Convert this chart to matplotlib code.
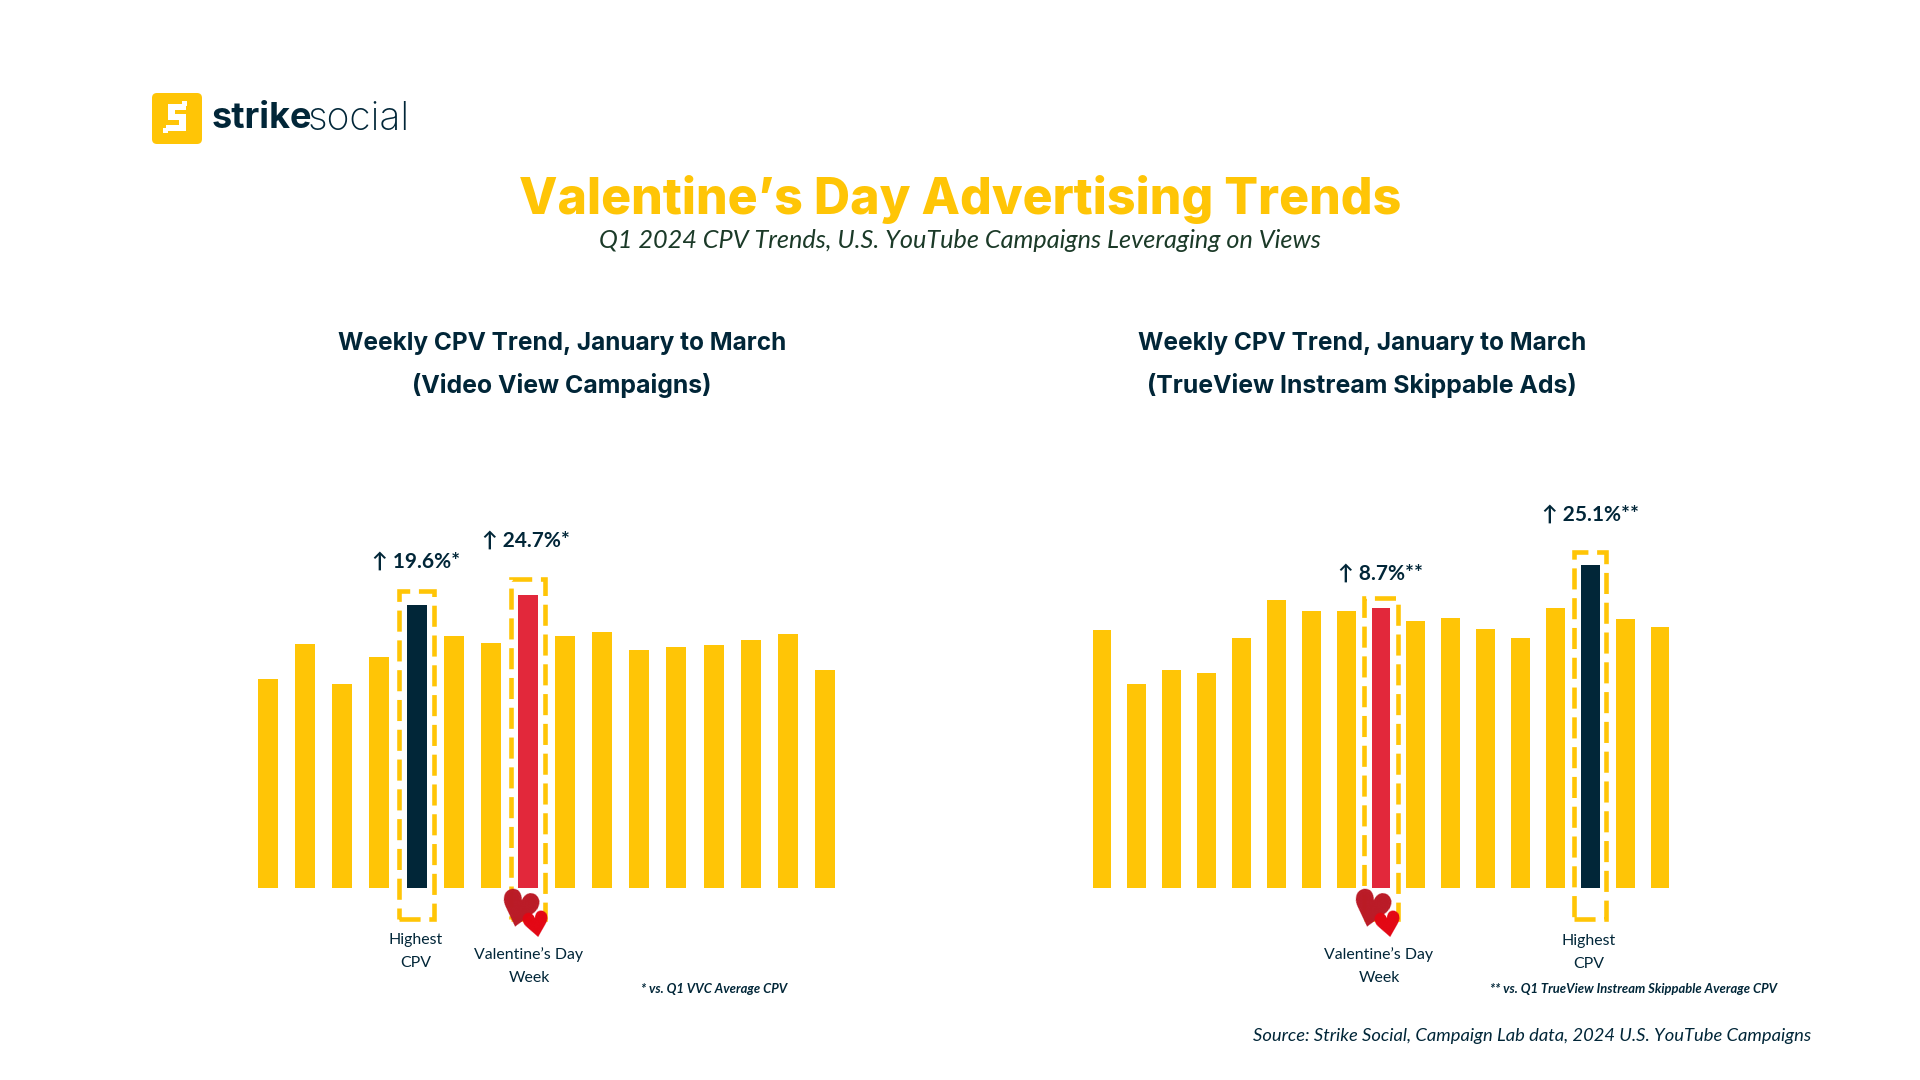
import matplotlib
matplotlib.use("Agg")
import matplotlib.pyplot as plt
from matplotlib.patches import Rectangle, FancyBboxPatch

W, H = 1920, 1080

# bar heights (no axis in the original, so relative units)
left_values = [209, 244, 204, 231, 283, 252, 245, 293, 252, 256, 238, 241, 243, 248, 254, 218]
right_values = [258, 204, 218, 215, 250, 288, 277, 277, 280, 267, 270, 259, 250, 280, 323, 269, 261]
left_navy = 4
left_red = 7
right_red = 8
right_navy = 14

YELLOW = "#FFC506"
NAVY = "#012638"
RED = "#E2283B"

plt.rcParams["font.family"] = ["Lato", "DejaVu Sans"]

fig = plt.figure(figsize=(19.2, 10.8), dpi=100, facecolor="white")


def px_axes(x0, x1, y0, y1):
    ax = fig.add_axes([x0 / W, 1 - y1 / H, (x1 - x0) / W, (y1 - y0) / H])
    ax.axis("off")
    return ax


def ftext(x, y, s, **kw):
    kw.setdefault("ha", "center")
    kw.setdefault("va", "center")
    kw.setdefault("color", NAVY)
    return fig.text(x / W, 1 - y / H, s, **kw)


def draw_bars(ax, values, navy, red):
    colors = [YELLOW] * len(values)
    colors[navy] = NAVY
    colors[red] = RED
    ax.bar(range(len(values)), values, width=0.54, color=colors, linewidth=0)


def dashed_box(ax, i, half, top, bottom):
    ax.add_patch(Rectangle((i - half, bottom), 2 * half, top - bottom, fill=False,
                           edgecolor=YELLOW, linewidth=3.3, linestyle=(0, (4.6, 1.9)),
                           clip_on=False, zorder=3))


# left chart, y units are 1 px
pitch = 37.13
ax1 = px_axes(268 - pitch / 2, 825 + pitch / 2, 500, 888)
ax1.set_xlim(-0.5, 15.5)
ax1.set_ylim(0, 388)
draw_bars(ax1, left_values, left_navy, left_red)
dashed_box(ax1, left_navy, 0.46, 297, -31)
dashed_box(ax1, left_red, 0.46, 309, -31)

# right chart
pitch = 34.88
ax2 = px_axes(1102 - pitch / 2, 1660 + pitch / 2, 500, 888)
ax2.set_xlim(-0.5, 16.5)
ax2.set_ylim(0, 388)
draw_bars(ax2, right_values, right_navy, right_red)
dashed_box(ax2, right_red, 0.5, 290, -31)
dashed_box(ax2, right_navy, 0.46, 336, -31)

# titles
ftext(960, 199, "Valentine\u2019s Day Advertising Trends", family="Inter", fontweight="heavy",
      fontsize=36, color=YELLOW)
ftext(960, 241, "Q1 2024 CPV Trends, U.S. YouTube Campaigns Leveraging on Views", style="italic",
      fontsize=18.2, color="#1B3A28")
for cx, l2 in [(562, "(Video View Campaigns)"), (1362, "(TrueView Instream Skippable Ads)")]:
    ftext(cx, 343, "Weekly CPV Trend, January to March", family="Inter", fontweight="bold", fontsize=17.6)
    ftext(cx, 386, l2, family="Inter", fontweight="bold", fontsize=17.9)

# callouts
for x, y, s in [(416, 562, "\u2191 19.6%*"), (526, 541, "\u2191 24.7%*"),
                (1381, 574, "\u2191 8.7%**"), (1590, 515, "\u2191 25.1%**")]:
    ftext(x, y, s, fontweight="bold", fontsize=15)

for x, y1, y2, a, b in [(416, 940, 963, "Highest", "CPV"),
                        (529, 955, 978, "Valentine\u2019s Day", "Week"),
                        (1379, 955, 978, "Valentine\u2019s Day", "Week"),
                        (1589, 941, 964, "Highest", "CPV")]:
    ftext(x, y1, a, fontsize=11.4)
    ftext(x, y2, b, fontsize=11.4)

# hearts
for cx in (518, 1370):
    ftext(cx, 914, "\u2665", family="DejaVu Sans", fontsize=36, color="#BA1A26", rotation=-14)
    ftext(cx + 18, 926, "\u2665", family="DejaVu Sans", fontsize=25, color="#E30613", rotation=10)

# notes
ftext(714, 989, "* vs. Q1 VVC Average CPV", style="italic", fontweight="bold", fontsize=9.35)
ftext(1634, 989, "** vs. Q1 TrueView Instream Skippable Average CPV", style="italic",
      fontweight="bold", fontsize=9.35)
ftext(1811, 1036, "Source: Strike Social, Campaign Lab data, 2024 U.S. YouTube Campaigns", ha="right",
      style="italic", fontsize=13.25)

# logo
logo = px_axes(0, W, 0, H)
logo.set_xlim(0, W)
logo.set_ylim(H, 0)
logo.patch.set_alpha(0)
logo.add_patch(FancyBboxPatch((156, 97), 42, 43, boxstyle="round,pad=4,rounding_size=5",
                              facecolor=YELLOW, edgecolor="none"))
for x, y, w, h in [(168, 104, 18, 6), (168, 104, 7, 15), (168, 114, 18, 6),
                   (179, 114, 7, 16), (166, 125, 20, 6), (182, 101, 5, 5), (163, 128, 5, 5)]:
    logo.add_patch(Rectangle((x, y), w, h, facecolor="white", edgecolor="none"))
ftext(212, 119, "strike", ha="left", family="Inter", fontweight="bold", fontsize=26)
ftext(308, 119, "social", ha="left", family="Inter", fontweight="light", fontsize=28)

fig.savefig("out.png", dpi=100, facecolor="white")
